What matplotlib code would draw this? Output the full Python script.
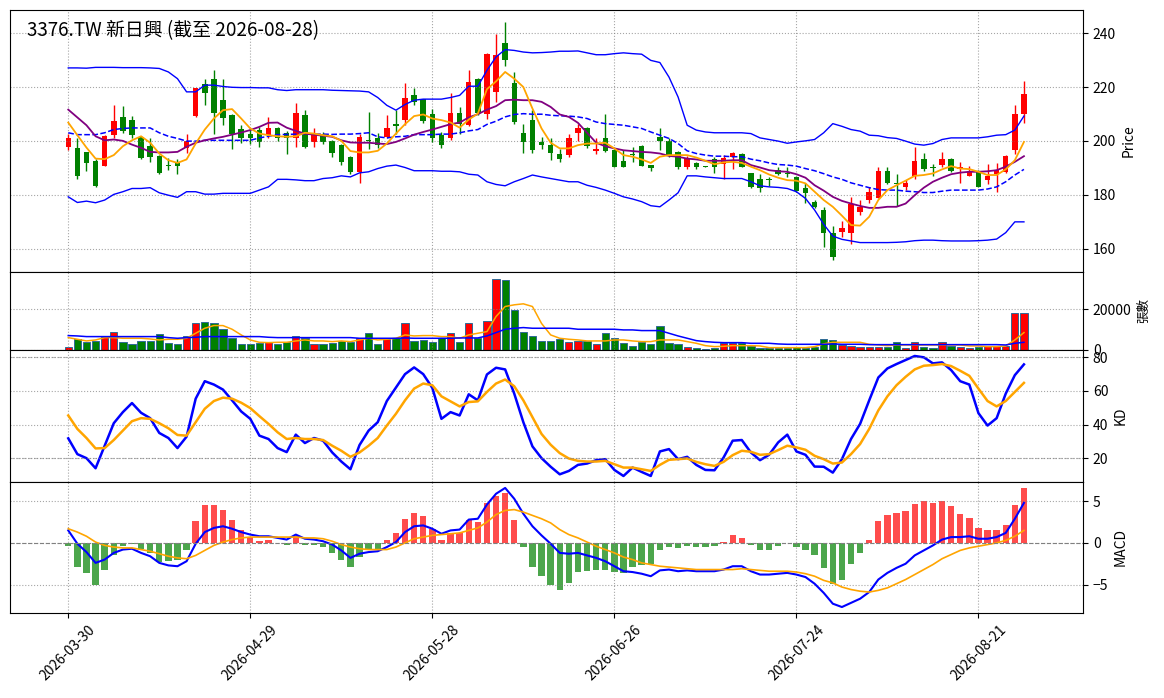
import numpy as np
import pandas as pd
import matplotlib
matplotlib.use("Agg")
import matplotlib.pyplot as plt
from matplotlib.ticker import MaxNLocator

plt.rcParams['font.family'] = ['Noto Sans CJK TC', 'DejaVu Sans']

title = "3376.TW 新日興 (截至 2026-08-28)"

# trading days (TW market holidays removed)
holidays = ['2026-04-03', '2026-04-06', '2026-05-01', '2026-06-19']
dates = pd.bdate_range('2026-03-30', '2026-08-28')
dates = dates[~dates.isin(pd.to_datetime(holidays))]
date_labels = [d.strftime('%Y-%m-%d') for d in dates]

open_ = [197.8, 197.2, 195.7, 192.5, 190.7, 202.3, 208.7, 207.7, 201.5, 198.0,
         194.3, 191.0, 192.0, 197.2, 209.3, 221.0, 222.9, 215.1, 209.5, 204.3,
         202.7, 204.0, 202.1, 204.6, 203.1, 201.1, 209.5, 199.4, 202.5, 199.9,
         198.4, 193.9, 188.5, 200.5, 201.2, 201.5, 206.4, 207.9, 216.9, 215.5,
         210.1, 202.3, 200.9, 210.5, 205.8, 222.9, 209.9, 218.2, 236.5, 221.6,
         203.1, 207.7, 199.4, 198.5, 195.1, 194.9, 203.1, 204.9, 196.3, 200.9,
         196.5, 192.5, 195.1, 198.0, 191.0, 201.5, 200.0, 195.7, 190.4, 191.8,
         190.5, 193.4, 191.3, 194.1, 195.1, 187.9, 185.7, 185.9, 189.1, 188.1,
         186.4, 182.3, 177.4, 174.3, 165.6, 166.2, 165.6, 173.4, 178.2, 178.8,
         188.7, 184.2, 182.9, 187.0, 193.1, 190.4, 191.0, 193.1, 189.4, 187.0,
         188.7, 185.4, 187.6, 188.5, 196.5, 209.9]
high = [202.5, 200.9, 196.0, 193.1, 202.1, 213.5, 213.0, 209.2, 201.7, 201.1,
        194.6, 193.7, 193.4, 202.7, 219.7, 222.8, 226.5, 222.8, 210.1, 205.8,
        204.6, 205.2, 208.9, 205.2, 203.7, 213.9, 211.6, 204.9, 203.3, 200.5,
        199.0, 194.4, 202.7, 210.8, 203.0, 209.5, 211.4, 221.5, 219.8, 215.7,
        211.8, 203.3, 217.8, 212.4, 226.5, 223.5, 232.5, 239.6, 244.2, 225.6,
        206.1, 211.4, 201.5, 201.1, 196.8, 202.5, 206.4, 205.2, 200.9, 210.1,
        196.8, 196.5, 197.8, 198.4, 191.0, 204.9, 200.9, 196.3, 194.3, 192.2,
        190.6, 194.1, 194.7, 195.7, 195.3, 188.1, 187.5, 186.6, 190.4, 190.1,
        187.0, 184.2, 178.0, 175.5, 168.3, 170.3, 179.2, 178.0, 182.7, 190.1,
        190.1, 187.6, 185.4, 197.8, 195.3, 191.3, 195.9, 193.8, 192.2, 190.6,
        189.1, 191.3, 191.6, 194.7, 213.2, 222.1]
low = [196.5, 185.7, 188.9, 182.9, 190.7, 200.9, 203.0, 200.9, 193.1, 192.2,
       187.5, 189.1, 187.5, 195.3, 208.9, 213.2, 202.5, 205.8, 196.8, 199.3,
       199.0, 197.8, 200.9, 199.9, 195.1, 197.8, 197.5, 197.8, 199.0, 194.1,
       191.0, 187.6, 184.5, 196.8, 197.5, 200.9, 202.7, 205.8, 213.5, 206.7,
       199.6, 197.2, 200.2, 202.7, 205.4, 209.5, 208.0, 214.5, 227.8, 206.4,
       195.3, 195.5, 196.8, 192.8, 192.2, 194.1, 200.0, 197.2, 195.1, 195.9,
       190.1, 190.1, 192.2, 190.7, 188.9, 196.5, 194.1, 189.4, 189.4, 189.7,
       190.2, 188.1, 186.0, 189.4, 190.1, 182.3, 181.1, 183.2, 187.3, 186.6,
       181.1, 177.0, 175.2, 160.4, 155.7, 164.4, 161.7, 172.4, 177.0, 178.6,
       183.9, 175.8, 181.7, 186.0, 188.7, 186.9, 190.4, 188.6, 184.4, 187.0,
       182.7, 183.9, 181.1, 188.2, 195.1, 206.7]
close = [200.9, 187.0, 191.8, 183.3, 201.7, 207.3, 203.7, 202.1, 193.7, 194.1,
         187.9, 190.6, 190.7, 199.9, 219.7, 217.8, 210.5, 208.5, 202.7, 200.9,
         200.9, 199.6, 204.6, 201.2, 201.2, 210.5, 197.8, 202.7, 199.6, 195.5,
         192.2, 188.5, 201.5, 200.0, 198.4, 204.9, 205.6, 216.0, 214.5, 207.4,
         200.9, 198.4, 210.5, 206.4, 221.9, 210.5, 232.2, 231.8, 229.9, 207.0,
         199.4, 196.5, 198.6, 195.5, 193.4, 200.9, 204.8, 198.0, 196.9, 196.3,
         190.4, 190.4, 194.8, 190.7, 190.0, 200.0, 194.4, 190.4, 193.8, 190.1,
         190.3, 190.1, 193.7, 195.5, 190.4, 182.9, 182.6, 185.5, 187.5, 187.7,
         181.3, 180.7, 175.5, 165.6, 156.7, 167.5, 176.4, 175.5, 181.1, 188.7,
         184.4, 183.8, 184.2, 192.5, 189.7, 190.0, 193.1, 188.9, 190.4, 188.7,
         182.9, 187.0, 189.1, 194.4, 210.1, 217.3]

ma5 = [206.8, 202.1, 197.5, 193.4, 193.2, 194.7, 198.0, 200.2, 201.7, 199.3,
       195.3, 192.8, 191.8, 193.1, 199.0, 204.2, 208.3, 211.4, 211.8, 208.3,
       204.6, 202.7, 202.1, 201.7, 201.5, 201.7, 203.0, 202.7, 202.1, 201.7,
       200.0, 196.2, 195.7, 195.7, 196.3, 199.0, 202.7, 206.2, 209.2, 209.8,
       208.3, 207.7, 206.8, 204.9, 207.9, 210.1, 219.2, 222.1, 225.6, 223.1,
       220.0, 212.0, 204.6, 199.3, 197.2, 197.2, 198.4, 199.0, 199.0, 199.3,
       197.2, 194.7, 194.1, 193.1, 191.8, 194.1, 194.7, 194.7, 194.7, 193.8,
       192.6, 191.3, 192.0, 192.2, 191.8, 190.4, 189.1, 187.5, 186.3, 185.4,
       185.2, 184.2, 181.1, 178.0, 175.5, 172.2, 168.7, 168.5, 171.8, 178.0,
       181.7, 183.5, 185.2, 187.0, 187.3, 187.9, 189.4, 190.6, 189.7, 189.5,
       188.5, 187.3, 187.3, 189.4, 192.8, 199.6]
ma10 = [211.6, 208.7, 205.8, 201.7, 200.2, 200.5, 200.0, 198.6, 197.4, 195.9,
        195.7, 195.7, 195.9, 197.8, 199.3, 200.2, 200.9, 201.5, 202.3, 203.1,
        204.0, 205.2, 206.7, 206.8, 204.9, 203.7, 202.7, 202.3, 201.9, 201.5,
        200.2, 199.4, 199.3, 199.3, 199.0, 198.8, 199.6, 200.9, 202.3, 203.3,
        204.2, 205.2, 206.2, 206.8, 208.7, 209.9, 211.6, 212.9, 215.1, 215.3,
        215.1, 215.1, 214.5, 212.6, 209.8, 208.9, 206.7, 203.0, 199.3, 198.0,
        197.2, 196.5, 196.2, 195.9, 195.7, 195.3, 194.4, 194.1, 193.4, 193.1,
        192.6, 192.6, 192.6, 192.8, 192.8, 191.0, 190.1, 189.1, 188.7, 188.5,
        187.6, 186.3, 183.5, 181.5, 179.2, 177.7, 176.7, 175.8, 175.1, 175.1,
        175.5, 175.5, 176.7, 179.8, 182.6, 184.8, 186.3, 187.6, 188.2, 188.5,
        188.5, 188.7, 189.1, 190.4, 192.2, 194.3]
ma20 = [203.0, 202.3, 202.3, 202.3, 203.0, 204.2, 204.6, 204.8, 204.8, 204.8,
        203.0, 201.7, 200.9, 199.9, 199.9, 200.2, 200.2, 200.2, 200.2, 200.2,
        200.2, 201.1, 201.7, 202.3, 202.4, 202.5, 202.5, 202.5, 202.5, 202.4,
        202.5, 202.5, 202.7, 203.0, 201.5, 201.1, 201.5, 201.7, 202.3, 202.3,
        202.3, 202.5, 202.5, 203.0, 203.7, 204.2, 206.1, 207.3, 208.9, 209.8,
        210.1, 209.9, 209.9, 209.5, 209.3, 209.2, 208.9, 208.3, 207.0, 206.4,
        206.1, 205.8, 205.2, 204.6, 203.3, 202.1, 200.9, 199.0, 196.3, 195.3,
        194.7, 194.3, 194.3, 194.1, 194.1, 193.2, 192.6, 191.8, 191.2, 191.0,
        190.6, 189.7, 188.9, 187.8, 186.6, 185.7, 184.4, 183.5, 182.6, 181.9,
        181.7, 181.7, 181.3, 181.1, 180.8, 180.8, 181.3, 181.7, 181.7, 181.7,
        181.7, 182.1, 182.9, 184.8, 187.3, 189.4]
bb_upper = [227.1, 227.1, 227.0, 227.3, 227.3, 227.3, 227.2, 227.2, 227.2, 227.1,
            226.9, 225.6, 223.1, 218.2, 218.2, 220.7, 220.7, 220.2, 219.9, 219.8,
            219.8, 219.7, 219.7, 219.0, 218.7, 219.0, 219.0, 219.0, 219.0, 218.8,
            218.7, 218.6, 218.5, 218.2, 216.1, 213.2, 211.4, 213.5, 215.1, 215.5,
            215.5, 215.5, 216.1, 216.9, 220.3, 220.3, 226.2, 231.2, 233.9, 233.6,
            233.0, 232.7, 232.8, 233.0, 233.3, 233.3, 233.4, 232.7, 232.0, 232.0,
            232.4, 232.7, 232.4, 232.2, 229.9, 229.1, 223.7, 216.3, 205.8, 204.0,
            203.3, 203.0, 203.0, 203.0, 203.0, 202.7, 201.1, 200.5, 199.9, 199.1,
            199.6, 200.0, 200.5, 203.0, 206.4, 205.4, 204.2, 203.6, 202.1, 201.9,
            201.2, 200.9, 199.9, 198.8, 198.4, 199.0, 200.5, 201.1, 201.1, 201.1,
            201.1, 201.5, 202.1, 202.3, 204.0, 209.2]
bb_lower = [179.2, 177.1, 177.6, 177.0, 178.0, 180.1, 181.1, 182.3, 182.3, 182.6,
            180.7, 179.8, 179.0, 181.1, 181.1, 180.2, 180.2, 180.5, 180.5, 180.5,
            180.5, 181.7, 182.9, 185.7, 185.7, 185.5, 185.2, 185.2, 186.0, 186.3,
            187.0, 186.6, 188.1, 188.5, 189.7, 190.6, 191.0, 190.1, 188.9, 188.9,
            188.9, 188.7, 188.7, 188.5, 187.6, 187.3, 184.8, 183.8, 183.3, 184.8,
            186.0, 187.3, 186.6, 186.0, 185.4, 184.8, 184.8, 183.5, 182.7, 181.7,
            180.5, 179.2, 178.4, 177.4, 175.9, 175.5, 178.0, 180.7, 187.0, 187.0,
            186.6, 186.3, 186.0, 186.0, 186.0, 184.8, 183.3, 182.9, 182.7, 182.3,
            181.1, 178.6, 174.3, 169.0, 164.6, 163.4, 162.8, 162.2, 162.2, 162.2,
            162.2, 162.3, 162.5, 162.9, 163.1, 163.1, 162.9, 162.8, 162.8, 162.8,
            162.9, 163.1, 163.5, 165.9, 169.9, 169.9]

volume = [1640, 5250, 3770, 4430, 6560, 9010, 4100, 2790, 4590, 4590,
          7700, 3280, 2790, 7050, 13100, 13900, 13100, 10160, 5740, 2790,
          2790, 3280, 3770, 2790, 4100, 7050, 5740, 2790, 2790, 3280,
          4590, 4100, 5740, 8200, 2790, 5250, 5740, 13100, 4430, 4920,
          3770, 6060, 8200, 3770, 13440, 5740, 14420, 34750, 34090, 19670,
          8690, 7050, 4430, 4430, 5250, 3770, 4430, 4430, 2790, 8200,
          5740, 3280, 2130, 3770, 2790, 11960, 3280, 2790, 1640, 1150,
          500, 1150, 3280, 3280, 3600, 1970, 1150, 820, 1150, 820,
          1640, 1150, 1640, 5600, 4920, 2460, 1970, 1640, 1640, 1640,
          1310, 3770, 1150, 3770, 1310, 820, 3770, 2130, 1640, 1150,
          1310, 2130, 2130, 2130, 18030, 18030]
vol_ma5 = [6060, 5250, 4430, 4920, 6060, 6060, 5740, 5740, 5740, 5400,
           4920, 5250, 5250, 5740, 8200, 10650, 11960, 11960, 10160, 7380,
           4920, 3770, 3600, 3770, 3770, 4430, 4920, 4430, 4430, 4100,
           4430, 4100, 4920, 5740, 4920, 5250, 5740, 7380, 6880, 7050,
           7050, 6560, 6560, 5740, 7380, 8200, 9010, 16390, 21300, 22130,
           22620, 21300, 13000, 7380, 5740, 5250, 4920, 4430, 4430, 4430,
           4920, 4920, 4430, 4100, 4100, 4920, 4920, 4920, 4100, 3280,
           2130, 1640, 1800, 2130, 2130, 2130, 1970, 1150, 1150, 1150,
           1150, 1150, 1640, 3000, 3770, 3770, 3770, 3770, 2790, 2460,
           2130, 2460, 2460, 2460, 2460, 2460, 2460, 2460, 2460, 1970,
           1970, 1640, 1640, 1970, 4920, 8520]
vol_ma20 = [7050, 6880, 6560, 6560, 6560, 6560, 6560, 6560, 6560, 6560,
            6560, 6060, 5740, 6060, 6230, 6560, 6560, 6560, 6560, 6560,
            6560, 6560, 6230, 6060, 6060, 6060, 6060, 6060, 6060, 6060,
            6060, 6060, 5740, 5740, 5740, 5740, 5740, 5900, 5740, 5740,
            5740, 5740, 5740, 5900, 5900, 5900, 6880, 8520, 10160, 10650,
            10980, 10650, 10650, 10650, 10650, 10650, 10160, 10160, 10160, 10160,
            10160, 9830, 9830, 9510, 9510, 9510, 8200, 6880, 5740, 4590,
            4100, 3770, 3600, 3600, 3600, 3280, 3280, 3280, 2950, 2790,
            2790, 2790, 2790, 2790, 2950, 2790, 2790, 2790, 2620, 2620,
            2620, 2620, 2620, 2620, 2620, 2620, 2620, 2620, 2620, 2620,
            2620, 2620, 2620, 2460, 3280, 3770]

k_line = [31.8, 22.4, 20.0, 14.0, 27.4, 40.8, 47.4, 52.8, 47.0, 43.8,
          35.0, 32.0, 26.0, 32.8, 55.4, 65.8, 63.8, 60.8, 54.4, 47.8,
          43.4, 33.4, 31.4, 26.0, 23.6, 34.0, 29.0, 32.0, 30.4, 23.4,
          18.0, 13.4, 27.8, 36.4, 41.4, 54.0, 62.0, 70.0, 74.0, 70.0,
          61.8, 43.4, 47.4, 45.4, 58.0, 54.4, 69.8, 73.8, 72.8, 58.4,
          41.4, 27.0, 20.0, 14.9, 10.4, 12.4, 16.0, 16.8, 18.8, 19.4,
          13.0, 9.4, 14.4, 11.8, 9.4, 24.0, 25.4, 19.4, 20.8, 16.0,
          13.0, 12.8, 20.4, 30.4, 30.8, 23.4, 18.8, 22.0, 29.4, 34.0,
          24.0, 22.0, 15.0, 14.9, 11.4, 19.4, 31.4, 40.4, 54.4, 68.0,
          73.4, 76.0, 78.4, 80.8, 80.0, 76.4, 77.0, 72.4, 65.8, 63.8,
          46.8, 39.4, 43.8, 58.4, 69.4, 75.8]
d_line = [45.4, 37.4, 32.0, 25.8, 26.0, 30.8, 36.4, 42.0, 43.8, 43.4,
          40.8, 37.8, 33.8, 33.4, 41.4, 49.4, 54.0, 56.0, 55.4, 53.0,
          49.8, 45.0, 40.4, 35.4, 31.4, 32.0, 31.4, 31.4, 30.8, 27.4,
          24.4, 20.8, 23.4, 27.4, 32.0, 39.4, 46.4, 54.4, 61.4, 64.4,
          63.4, 56.8, 53.8, 50.8, 53.4, 53.8, 59.4, 64.4, 66.8, 62.8,
          54.4, 44.4, 34.4, 28.0, 23.0, 19.8, 18.4, 18.0, 18.0, 18.4,
          16.4, 14.4, 14.4, 13.4, 12.4, 16.0, 19.0, 19.4, 19.8, 17.8,
          16.4, 15.4, 17.8, 21.8, 24.4, 23.8, 22.0, 22.4, 24.8, 27.4,
          26.4, 25.0, 21.4, 19.4, 16.8, 17.4, 22.4, 28.4, 37.4, 48.4,
          56.8, 63.4, 68.4, 72.8, 75.0, 75.4, 76.0, 74.8, 72.0, 69.0,
          61.4, 54.0, 50.8, 54.0, 59.4, 64.8]

dif = [1.5, -0.1, -1.1, -2.4, -2.0, -1.2, -0.8, -0.7, -1.2, -1.6,
       -2.4, -2.7, -2.8, -2.2, -0.1, 1.3, 1.8, 2.0, 1.7, 1.3,
       1.0, 0.8, 0.8, 0.6, 0.4, 1.0, 0.5, 0.4, 0.2, -0.2,
       -0.9, -1.8, -1.3, -1.1, -1.0, -0.5, 0.1, 1.3, 2.0, 2.1,
       1.7, 1.1, 1.5, 1.6, 2.8, 2.9, 4.6, 5.9, 6.6, 5.3,
       3.5, 2.0, 0.9, -0.1, -1.2, -1.3, -1.2, -1.5, -1.8, -2.2,
       -2.8, -3.4, -3.5, -3.7, -4.0, -3.3, -3.2, -3.4, -3.3, -3.4,
       -3.4, -3.4, -3.2, -2.8, -2.8, -3.4, -3.8, -3.8, -3.7, -3.6,
       -3.8, -4.1, -4.9, -6.0, -7.3, -7.7, -7.2, -6.7, -5.9, -4.4,
       -3.6, -3.0, -2.5, -1.5, -0.9, -0.3, 0.4, 0.7, 0.7, 0.8,
       0.5, 0.5, 0.7, 1.2, 2.9, 4.8]
dea = [1.7, 1.3, 0.8, 0.1, -0.3, -0.5, -0.6, -0.6, -0.8, -1.0,
       -1.3, -1.6, -1.8, -1.9, -1.5, -0.9, -0.3, 0.1, 0.4, 0.6,
       0.7, 0.7, 0.7, 0.7, 0.7, 0.7, 0.6, 0.6, 0.5, 0.2,
       -0.2, -0.5, -0.7, -0.8, -0.8, -0.8, -0.5, 0.0, 0.5, 0.7,
       0.9, 1.0, 1.1, 1.2, 1.5, 1.8, 2.5, 3.4, 3.9, 4.0,
       3.7, 3.3, 2.9, 2.4, 1.6, 1.0, 0.6, 0.1, -0.4, -0.8,
       -1.2, -1.7, -2.0, -2.4, -2.6, -2.8, -2.9, -3.0, -3.1, -3.2,
       -3.2, -3.2, -3.2, -3.2, -3.1, -3.2, -3.3, -3.4, -3.4, -3.4,
       -3.5, -3.7, -4.0, -4.5, -4.8, -5.3, -5.6, -5.8, -5.9, -5.7,
       -5.4, -4.9, -4.4, -3.8, -3.2, -2.6, -1.9, -1.4, -0.9, -0.6,
       -0.4, -0.2, 0.0, 0.3, 0.8, 1.5]
macd_hist = [-0.4, -2.9, -3.6, -5.1, -3.3, -1.4, -0.4, -0.1, -0.7, -1.2,
             -2.3, -2.2, -2.1, -0.8, 2.6, 4.5, 4.5, 4.0, 2.8, 1.6,
             0.7, 0.2, 0.3, -0.05, -0.3, 0.8, -0.2, -0.2, -0.5, -1.2,
             -2.1, -2.9, -1.7, -0.9, -0.7, 0.4, 1.2, 2.9, 3.6, 3.2,
             1.7, 0.4, 1.2, 1.2, 2.8, 2.5, 4.8, 5.6, 6.0, 2.7,
             -0.5, -2.9, -4.0, -5.0, -5.6, -4.8, -3.5, -3.4, -3.3, -3.2,
             -3.5, -3.6, -2.9, -2.7, -2.5, -0.9, -0.5, -0.6, -0.4, -0.5,
             -0.5, -0.4, 0.15, 0.9, 0.6, -0.3, -0.9, -0.8, -0.4, -0.05,
             -0.5, -0.8, -1.5, -3.0, -4.9, -4.4, -2.5, -1.2, 0.4, 2.6,
             3.3, 3.6, 3.8, 4.7, 5.0, 4.8, 5.0, 4.4, 3.5, 3.0,
             1.8, 1.5, 1.6, 2.2, 4.5, 6.6]

x = np.arange(len(close))
o = np.array(open_)
c = np.array(close)
up = c >= o
candle_colors = np.where(up, 'red', 'green')

fig = plt.figure(figsize=(11.64, 6.98), dpi=100)
gs = fig.add_gridspec(4, 1, height_ratios=[262, 78, 132, 131], hspace=0,
                      left=0.0086, right=0.9305, top=0.9857, bottom=0.1218)
ax1 = fig.add_subplot(gs[0])
ax2 = fig.add_subplot(gs[1], sharex=ax1)
ax3 = fig.add_subplot(gs[2], sharex=ax1)
ax4 = fig.add_subplot(gs[3], sharex=ax1)

# price panel
ax1.vlines(x, low, high, colors=candle_colors, linewidth=1)
body = np.maximum(np.abs(c - o), 0.15)
ax1.bar(x, body, bottom=np.minimum(o, c), width=0.6, color=candle_colors)
ax1.plot(x, bb_upper, color='blue', linewidth=1)
ax1.plot(x, bb_lower, color='blue', linewidth=1)
ax1.plot(x, ma20, color='blue', linestyle='--', linewidth=1.1)
ax1.plot(x, ma10, color='purple', linewidth=1.3)
ax1.plot(x, ma5, color='orange', linewidth=1.3)
ax1.text(0.016, 0.962, title, transform=ax1.transAxes, va='top', ha='left', fontsize=13.6)
ax1.set_ylabel('Price', fontsize=10)

# volume panel
ax2.bar(x, volume, width=0.8, color=candle_colors, edgecolor='#2f6a96', linewidth=0.7)
ax2.plot(x, vol_ma5, color='orange', linewidth=1.1)
ax2.plot(x, vol_ma20, color='blue', linewidth=1.1)
ax2.set_ylim(0, max(volume) * 1.1)
ax2.yaxis.set_major_locator(MaxNLocator(nbins=2))
ax2.set_ylabel('張數', fontsize=9)

# KD panel
ax3.plot(x, k_line, color='blue', linewidth=1.8)
ax3.plot(x, d_line, color='orange', linewidth=1.8)
ax3.axhline(80, color='gray', linestyle='--', linewidth=0.8, alpha=0.5)
ax3.axhline(20, color='gray', linestyle='--', linewidth=0.8, alpha=0.5)
ax3.set_ylabel('KD', fontsize=10)

# MACD panel
hist = np.array(macd_hist)
ax4.bar(x, hist, width=0.7, color=np.where(hist >= 0, 'red', 'green'), alpha=0.7)
ax4.plot(x, dif, color='blue', linewidth=1.5)
ax4.plot(x, dea, color='orange', linewidth=1.2)
ax4.axhline(0, color='gray', linestyle='--', linewidth=0.8)
ax4.set_ylabel('MACD', fontsize=10)

tick_pos = x[::20]
for ax in (ax1, ax2, ax3, ax4):
    ax.yaxis.tick_right()
    ax.yaxis.set_label_position('right')
    ax.grid(True, linestyle=':', color='gray', alpha=0.7)
    ax.tick_params(labelsize=10)
    ax.set_xticks(tick_pos)
for ax in (ax1, ax2, ax3):
    ax.tick_params(labelbottom=False)

ax4.set_xticklabels([date_labels[i] for i in tick_pos], rotation=45)
ax1.set_xlim(-6.4, 111.5)

fig.savefig('out.png', dpi=100)
